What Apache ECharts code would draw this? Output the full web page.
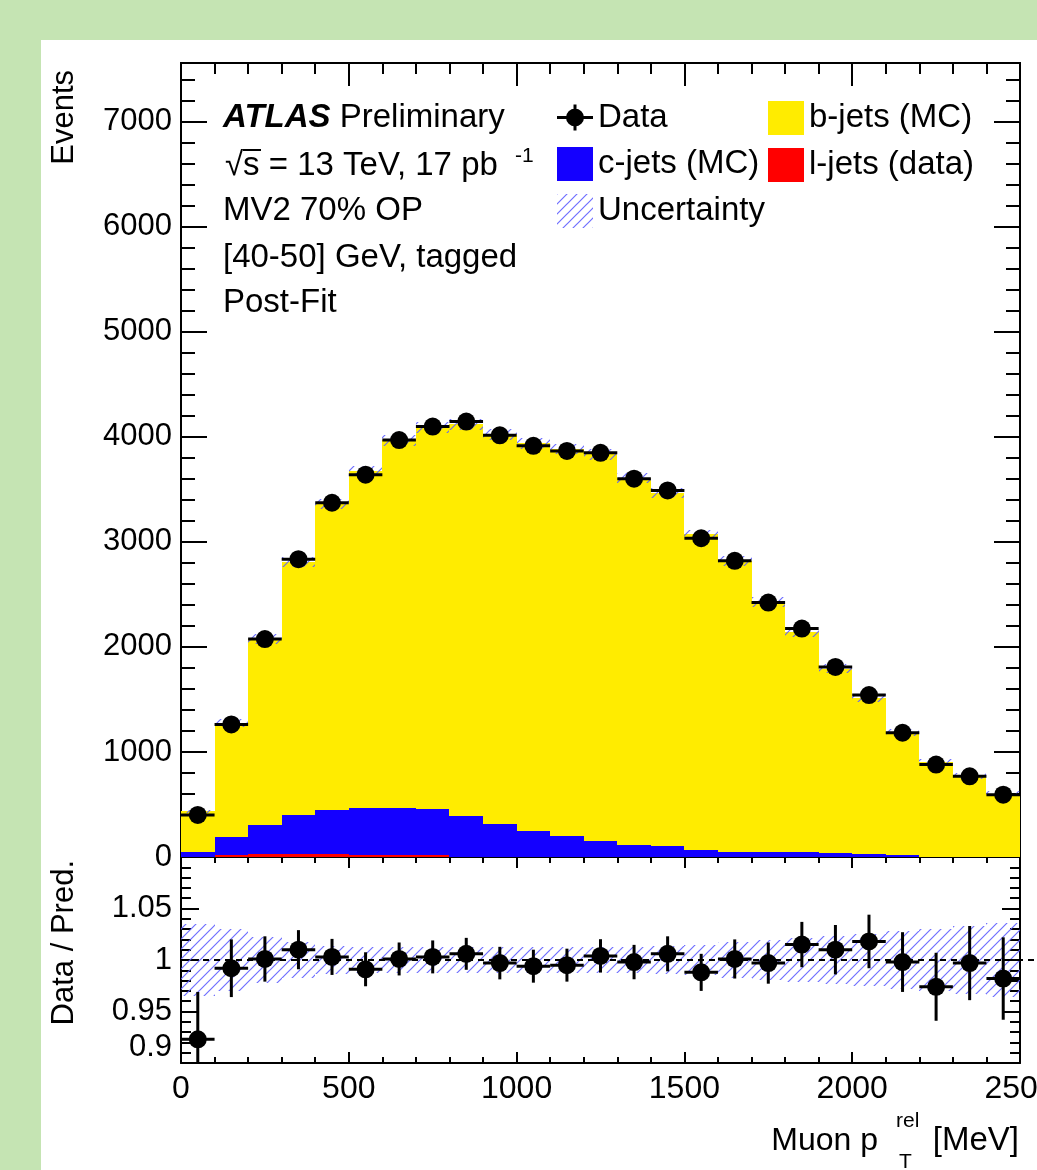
<!DOCTYPE html>
<html>
<head>
<meta charset="utf-8">
<script src="https://cdn.jsdelivr.net/npm/echarts@6/dist/echarts.min.js"></script>
<style>
  html, body { margin: 0; padding: 0; background: #c5e4b3; }
  #sheet { position: absolute; left: 41px; top: 40px; width: 996px; height: 1130px; background: #fff; }
  #chart { position: absolute; left: 0; top: 0; width: 1037px; height: 1170px; }
</style>
</head>
<body>
<div id="sheet"></div>
<div id="chart"></div>
<script>
// bin edges of muon pT^rel [MeV]
const binEdges = [0, 100, 200, 300, 400, 500, 600, 700, 800, 900, 1000, 1100, 1200,
  1300, 1400, 1500, 1600, 1700, 1800, 1900, 2000, 2100, 2200, 2300, 2400, 2500];

// data events per bin and their stat errors
const dataEvents = [401, 1262, 2075, 2836, 3373, 3640, 3970, 4098, 4146, 4015, 3915, 3866,
  3848, 3602, 3490, 3035, 2820, 2423, 2175, 1810, 1542, 1183, 880, 768, 593];
const dataErr = [20, 36, 46, 53, 58, 60, 63, 64, 64, 63, 63, 62, 62, 60, 59, 55, 53, 49, 47,
  43, 39, 34, 30, 28, 24];

// stacked templates (post-fit)
const lJets = [2, 15, 30, 32, 30, 18, 18, 15, 3, 3, 2, 2, 2, 2, 2, 1, 1, 1, 1, 1, 1, 1, 0, 0, 0];
const cJets = [49, 173, 273, 370, 419, 450, 450, 441, 389, 315, 246, 195, 150, 112, 100, 69,
  50, 50, 47, 34, 32, 14, 3, 3, 3];
const bJets = [383, 1084, 1770, 2406, 2914, 3205, 3498, 3630, 3729, 3709, 3691, 3688, 3681,
  3495, 3367, 3002, 2766, 2379, 2095, 1757, 1482, 1170, 900, 767, 601];

// ratio panel
const ratio = [0.923, 0.992, 1.001, 1.010, 1.003, 0.991, 1.001, 1.003, 1.006, 0.997, 0.994,
  0.995, 1.004, 0.998, 1.006, 0.988, 1.001, 0.997, 1.015, 1.010, 1.018, 0.998, 0.974, 0.997, 0.982];
const ratioErr = [0.046, 0.028, 0.022, 0.019, 0.0175, 0.0165, 0.016, 0.016, 0.0155, 0.0158,
  0.016, 0.016, 0.0162, 0.0167, 0.017, 0.018, 0.019, 0.020, 0.022, 0.024, 0.026, 0.029, 0.033,
  0.036, 0.040];
// relative uncertainty of the prediction
const uncRel = [0.035, 0.030, 0.022, 0.017, 0.014, 0.013, 0.013, 0.013, 0.013, 0.013, 0.013,
  0.013, 0.013, 0.013, 0.014, 0.015, 0.017, 0.019, 0.021, 0.023, 0.025, 0.028, 0.030, 0.033, 0.036];

const FONT = '"Liberation Sans", Arial, Helvetica, sans-serif';
const YELLOW = '#ffec00';
const BLUE = '#1400ff';
const RED = '#ff0000';

function makeHatch() {
  const c = document.createElement('canvas');
  c.width = 10; c.height = 10;
  const g = c.getContext('2d');
  g.strokeStyle = 'rgba(95,95,255,0.9)';
  g.lineWidth = 1.2;
  g.beginPath();
  g.moveTo(0, 10); g.lineTo(10, 0);
  g.moveTo(-5, 5); g.lineTo(5, -5);
  g.moveTo(5, 15); g.lineTo(15, 5);
  g.stroke();
  return c;
}
const hatch = { image: makeHatch(), repeat: 'repeat' };

function boxRender(fill) {
  return function (params, api) {
    const a = api.coord([api.value(0), api.value(2)]);
    const b = api.coord([api.value(1), api.value(3)]);
    const x0 = Math.round(a[0]), x1 = Math.round(b[0]);
    const y0 = Math.round(a[1]), y1 = Math.round(b[1]);
    return {
      type: 'rect',
      shape: { x: x0, y: y1, width: x1 - x0, height: y0 - y1 },
      style: { fill: fill }
    };
  };
}

function pointRender(radius) {
  return function (params, api) {
    const mid = (api.value(0) + api.value(1)) / 2;
    const lo = api.coord([api.value(0), api.value(2)]);
    const hi = api.coord([api.value(1), api.value(2)]);
    const c = api.coord([mid, api.value(2)]);
    const up = api.coord([mid, api.value(2) + api.value(3)]);
    const dn = api.coord([mid, api.value(2) - api.value(3)]);
    return {
      type: 'group',
      children: [
        { type: 'line', shape: { x1: lo[0], y1: c[1], x2: hi[0], y2: c[1] }, style: { stroke: '#000', lineWidth: 3 } },
        { type: 'line', shape: { x1: c[0], y1: up[1], x2: c[0], y2: dn[1] }, style: { stroke: '#000', lineWidth: 3 } },
        { type: 'circle', shape: { cx: c[0], cy: c[1], r: radius }, style: { fill: '#000' } }
      ]
    };
  };
}

const lData = lJets.map((v, i) => [binEdges[i], binEdges[i + 1], 0, v]);
const cData = cJets.map((v, i) => [binEdges[i], binEdges[i + 1], lJets[i], lJets[i] + v]);
const bData = bJets.map((v, i) => {
  const base = lJets[i] + cJets[i];
  return [binEdges[i], binEdges[i + 1], base, base + v];
});
const uncTopData = bJets.map((v, i) => {
  const tot = lJets[i] + cJets[i] + v;
  return [binEdges[i], binEdges[i + 1], tot * (1 - uncRel[i]), tot * (1 + uncRel[i])];
});
const pointsTop = dataEvents.map((v, i) => [binEdges[i], binEdges[i + 1], v, dataErr[i]]);
const uncRatioData = uncRel.map((u, i) => [binEdges[i], binEdges[i + 1], 1 - u, 1 + u]);
const pointsRatio = ratio.map((v, i) => [binEdges[i], binEdges[i + 1], v, ratioErr[i]]);

const lineStyle = { color: '#000', width: 2 };
const plain = v => String(Math.round(v * 1000) / 1000);

function xAx(grid, pos, major, minor, label) {
  return {
    type: 'value', gridIndex: grid, position: pos, min: 0, max: 2500, interval: 500,
    axisLine: { show: true, onZero: false, lineStyle: lineStyle },
    axisTick: { show: true, inside: true, length: major, lineStyle: lineStyle },
    minorTick: { show: true, splitNumber: 5, length: minor, lineStyle: lineStyle },
    splitLine: { show: false },
    axisLabel: label ? { show: true, margin: 10, fontSize: 32, color: '#000', fontFamily: FONT, formatter: plain } : { show: false }
  };
}

function yAx(grid, pos, min, max, interval, major, minor, label) {
  return {
    type: 'value', gridIndex: grid, position: pos, min: min, max: max, interval: interval,
    axisLine: { show: true, onZero: false, lineStyle: lineStyle },
    axisTick: { show: true, inside: true, length: major, lineStyle: lineStyle },
    minorTick: { show: minor > 0, splitNumber: 5, length: minor, lineStyle: lineStyle },
    splitLine: { show: false },
    axisLabel: label ? Object.assign({ show: true, margin: 9, fontSize: 31, color: '#000', fontFamily: FONT, showMaxLabel: false, formatter: plain }, label) : { show: false }
  };
}

const dataIcon = 'path://M0,15.5H36V18.5H0Z M16.5,4H19.5V30H16.5Z M27,17A9,9 0 1,1 9,17A9,9 0 1,1 27,17Z';

const legendText = { fontSize: 33, color: '#000', fontFamily: FONT };
const txt = (s, size) => ({ text: s, fontSize: size || 33, fontFamily: FONT, fill: '#000', verticalAlign: 'middle' });

const option = {
  animation: false,
  backgroundColor: 'transparent',
  grid: [
    { left: 181, top: 63, width: 839, height: 794, containLabel: false, outerBoundsMode: 'none' },
    { left: 181, top: 857, width: 839, height: 206, containLabel: false, outerBoundsMode: 'none' }
  ],
  xAxis: [
    xAx(0, 'bottom', 23, 11, false),
    xAx(0, 'top', 23, 11, false),
    xAx(1, 'bottom', 11, 6, true),
    xAx(1, 'top', 11, 6, false)
  ],
  yAxis: [
    yAx(0, 'left', 0, 7560, 1000, 26, 0, {}),
    yAx(0, 'left', 0, 7560, 200, 14, 0, null),
    yAx(0, 'right', 0, 7560, 1000, 26, 0, null),
    yAx(0, 'right', 0, 7560, 200, 14, 0, null),
    yAx(1, 'left', 0.9, 1.1, 0.05, 18, 10, { verticalAlignMinLabel: 'bottom' }),
    yAx(1, 'right', 0.9, 1.1, 0.05, 18, 10, null)
  ],
  legend: [
    {
      left: 557, top: 101, orient: 'vertical', padding: 0, itemWidth: 36, itemHeight: 34, itemGap: 13,
      selectedMode: false, textStyle: legendText,
      data: [
        { name: 'Data', icon: dataIcon, itemStyle: { color: '#000' } },
        { name: 'c-jets (MC)', icon: 'rect', itemStyle: { color: BLUE } },
        { name: 'Uncertainty', icon: 'rect', itemStyle: { color: hatch } }
      ]
    },
    {
      left: 768, top: 101, orient: 'vertical', padding: 0, itemWidth: 36, itemHeight: 34, itemGap: 13,
      selectedMode: false, textStyle: legendText,
      data: [
        { name: 'b-jets (MC)', icon: 'rect', itemStyle: { color: YELLOW } },
        { name: 'l-jets (data)', icon: 'rect', itemStyle: { color: RED } }
      ]
    }
  ],
  graphic: [
    { type: 'text', x: 223, y: 118, style: Object.assign(txt('{b|ATLAS} Preliminary'), { rich: { b: { fontSize: 33, fontFamily: FONT, fontWeight: 'bold', fontStyle: 'italic' } } }) },
    { type: 'text', x: 225, y: 166, style: txt('\u221As = 13 TeV, 17 pb') },
    { type: 'line', shape: { x1: 243, y1: 150, x2: 261, y2: 150 }, style: { stroke: '#000', lineWidth: 2 } },
    { type: 'text', x: 515, y: 156, style: txt('-1', 21) },
    { type: 'text', x: 223, y: 211, style: txt('MV2 70% OP') },
    { type: 'text', x: 223, y: 258, style: txt('[40-50] GeV, tagged') },
    { type: 'text', x: 223, y: 303, style: txt('Post-Fit') },
    { type: 'text', x: 64, y: 70, rotation: Math.PI / 2, style: Object.assign(txt('Events', 31), { align: 'right' }) },
    { type: 'text', x: 64, y: 860, rotation: Math.PI / 2, style: Object.assign(txt('Data / Pred.', 31), { align: 'right' }) },
    { type: 'text', x: 878, y: 1141, style: Object.assign(txt('Muon p', 32), { align: 'right' }) },
    { type: 'text', x: 896, y: 1121, style: txt('rel', 21) },
    { type: 'text', x: 899, y: 1162, style: txt('T', 21) },
    { type: 'text', x: 1019, y: 1141, style: Object.assign(txt('[MeV]', 33), { align: 'right' }) }
  ],
  series: [
    { name: 'l-jets (data)', type: 'custom', xAxisIndex: 0, yAxisIndex: 0, itemStyle: { color: RED }, renderItem: boxRender(RED), data: lData, encode: { x: [0, 1], y: [2, 3] }, z: 2 },
    { name: 'c-jets (MC)', type: 'custom', xAxisIndex: 0, yAxisIndex: 0, itemStyle: { color: BLUE }, renderItem: boxRender(BLUE), data: cData, encode: { x: [0, 1], y: [2, 3] }, z: 2 },
    { name: 'b-jets (MC)', type: 'custom', xAxisIndex: 0, yAxisIndex: 0, itemStyle: { color: YELLOW }, renderItem: boxRender(YELLOW), data: bData, encode: { x: [0, 1], y: [2, 3] }, z: 2 },
    { name: 'Uncertainty', type: 'custom', xAxisIndex: 0, yAxisIndex: 0, itemStyle: { color: hatch }, renderItem: boxRender(hatch), data: uncTopData, encode: { x: [0, 1], y: [2, 3] }, z: 3 },
    { name: 'Data', type: 'custom', xAxisIndex: 0, yAxisIndex: 0, itemStyle: { color: '#000' }, renderItem: pointRender(9), data: pointsTop, encode: { x: [0, 1], y: 2 }, z: 4 },
    { name: 'Uncertainty', type: 'custom', xAxisIndex: 2, yAxisIndex: 4, itemStyle: { color: hatch }, renderItem: boxRender(hatch), data: uncRatioData, encode: { x: [0, 1], y: [2, 3] }, z: 3, clip: true },
    {
      name: 'unity', type: 'custom', xAxisIndex: 2, yAxisIndex: 4, clip: false, z: 3,
      data: [[0, 2560, 1]],
      renderItem: function (params, api) {
        const a = api.coord([api.value(0), api.value(2)]);
        const b = api.coord([api.value(1), api.value(2)]);
        return { type: 'line', shape: { x1: a[0], y1: a[1], x2: b[0], y2: b[1] }, style: { stroke: '#000', lineWidth: 2, lineDash: [6, 5] } };
      }
    },
    { name: 'Data', type: 'custom', xAxisIndex: 2, yAxisIndex: 4, itemStyle: { color: '#000' }, renderItem: pointRender(9), data: pointsRatio, encode: { x: [0, 1], y: 2 }, z: 4, clip: true }
  ]
};

const chart = echarts.init(document.getElementById('chart'), null, { renderer: 'canvas' });
chart.setOption(option);
</script>
</body>
</html>
